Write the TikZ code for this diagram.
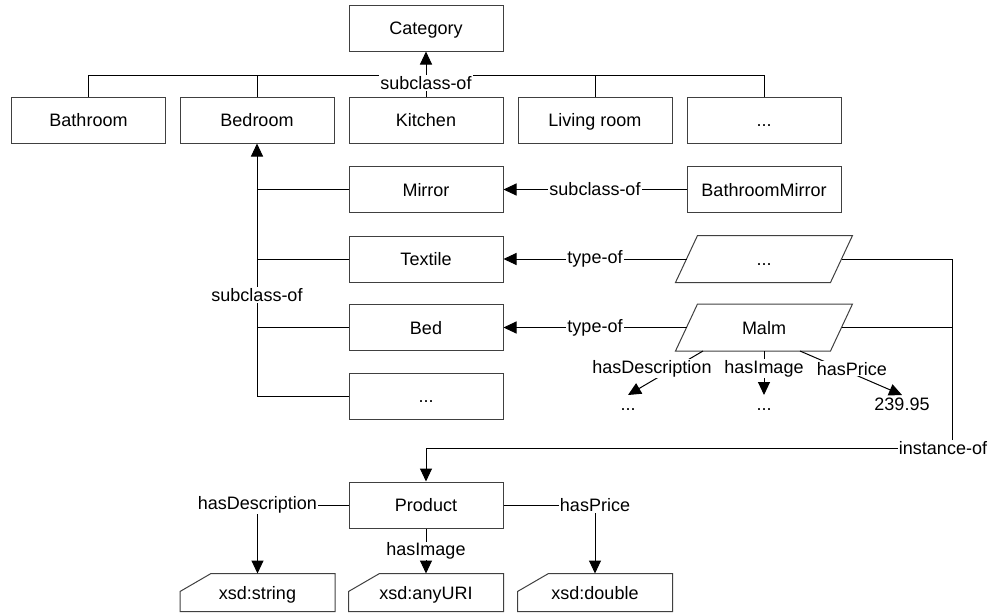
\documentclass[tikz,border=0pt]{standalone}
\usepackage{fontspec}
\setmainfont{Liberation Sans}
\usetikzlibrary{positioning,calc,arrows.meta}

\tikzset{
  cls/.style={draw=black!75, rectangle, minimum width=77pt, minimum height=23pt, inner sep=0pt,
    text height=8.5pt, text depth=2pt},
  inst/.style={rectangle, minimum width=77pt, minimum height=23pt, inner sep=0pt,
    text height=8.5pt, text depth=2pt},
  dtype/.style={rectangle, minimum width=77pt, minimum height=18.5pt, inner sep=0pt,
    text height=8.5pt, text depth=2pt},
  outline/.style={draw=black!75},
  lbl/.style={fill=white, inner sep=0.5pt},
  val/.style={text height=6.5pt, text depth=2pt, inner sep=1pt},
  arr/.style={-{Triangle[length=6.5pt,width=6pt]}},
}

\begin{document}
\begin{tikzpicture}[x=0.5pt, y=-0.5pt, line width=0.5pt, font=\fontsize{9}{11}\selectfont]
\useasboundingbox (0,0) rectangle (992,612);
% classes
\node[cls] (category) at (426,28) {Category};
\node[cls] (bathroom) at (88.5,120) {Bathroom};
\node[cls] (bedroom) at (257,120) {Bedroom};
\node[cls] (kitchen) at (426,120) {Kitchen};
\node[cls] (living) at (595,120) {Living room};
\node[cls] (moreroom) at (764,120) {...};
\node[cls] (mirror) at (426,189.5) {Mirror};
\node[cls] (textile) at (426,259) {Textile};
\node[cls] (bed) at (426,327.5) {Bed};
\node[cls] (morefurn) at (426,396) {...};
\node[cls] (bathmirror) at (764,189.5) {BathroomMirror};
% instances
\node[inst] (moreinst) at (764,259) {...};
\node[inst] (malm) at (764,327.5) {Malm};
\foreach \i in {moreinst,malm}
  \draw[outline] ($(\i.south west)+(-11,0)$) -- ($(\i.north west)+(11,0)$)
    -- ($(\i.north east)+(11,0)$) -- ($(\i.south east)+(-11,0)$) -- cycle;
\node[val] (maldesc) at (628,406) {...};
\node[val] (malimg) at (764,406) {...};
\node[val] (malprice) at (902,406) {239.95};
% product and datatypes
\node[cls] (product) at (426,505) {Product};
\node[dtype] (xstring) at (257.5,592.5) {xsd:string};
\node[dtype] (xuri) at (426,592.5) {xsd:anyURI};
\node[dtype] (xdouble) at (595,592.5) {xsd:double};
\foreach \d in {xstring,xuri,xdouble}
  \draw[outline] (\d.south west) -- ($(\d.north west)+(0,18)$) -- ($(\d.north west)+(31,0)$)
    -- (\d.north east) -- (\d.south east) -- cycle;

% room hierarchy
\draw (bathroom.north) |- ($(moreroom.north)+(0,-21)$) -- (moreroom.north);
\draw (bedroom.north) -- ++(0,-21);
\draw (living.north) -- ++(0,-21);
\draw[arr] (kitchen) -- node[lbl, pos=0.3] {subclass-of} (category);

% furniture hierarchy
\foreach \f in {mirror,textile,bed}
  \draw (\f.west) -- (\f.west -| bedroom.south);
\draw[arr] (morefurn.west) -| node[lbl, pos=0.7] {subclass-of} (bedroom.south);
\draw[arr] (bathmirror) -- node[lbl] {subclass-of} (mirror);
\draw[arr] (moreinst) -- node[lbl] {type-of} (textile);
\draw[arr] (malm) -- node[lbl] {type-of} (bed);

% properties of Malm
\draw[arr] ($(malm.south)+(-61,0)$) -- node[lbl, pos=0.4, xshift=-10.5pt] {hasDescription} (maldesc.north);
\draw[arr] (malm.south) -- node[lbl, pos=0.4] {hasImage} (malimg.north);
\draw[arr] ($(malm.south)+(36,0)$) -- node[lbl, pos=0.4, xshift=5.5pt] {hasPrice} (malprice.north);

% instance-of
\coordinate (io) at (952,448);
\draw (moreinst.east) -| (io);
\draw (malm.east) -| (io);
\draw[arr] (io) -| (product.north);
\node[lbl] (iolabel) at (943,448) {instance-of};

% properties of Product
\draw[arr] (product.west) -| node[lbl, pos=0.5] {hasDescription} (xstring.north);
\draw[arr] (product) -- node[lbl] {hasImage} (xuri);
\draw[arr] (product.east) -| node[lbl, pos=0.5] {hasPrice} (xdouble.north);
\end{tikzpicture}
\end{document}
